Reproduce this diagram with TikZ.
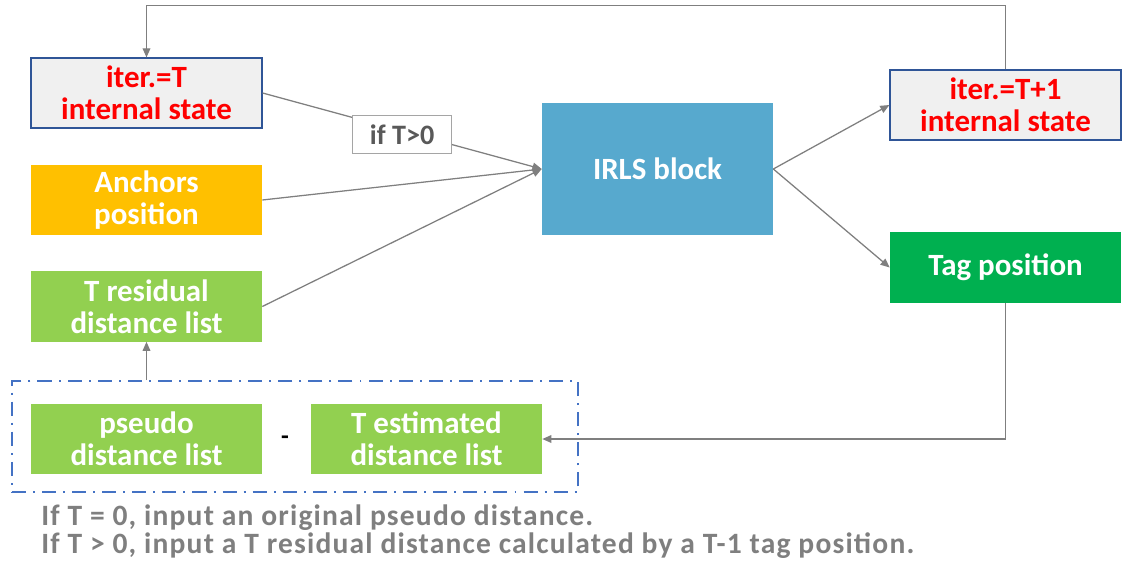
\documentclass[tikz,border=0pt]{standalone}
\usepackage{fontspec}
\setmainfont{Carlito}
\usepackage{xcolor}
\usetikzlibrary{arrows.meta}
\definecolor{lineGray}{RGB}{127,127,127}
\definecolor{stateBlue}{RGB}{47,85,151}
\definecolor{stateFill}{RGB}{240,240,240}
\definecolor{anchorOrange}{RGB}{255,192,0}
\definecolor{listGreen}{RGB}{146,208,80}
\definecolor{tagGreen}{RGB}{0,176,80}
\definecolor{irlsBlue}{RGB}{87,169,206}
\definecolor{groupBlue}{RGB}{68,114,196}
\definecolor{condGray}{RGB}{89,89,89}

\tikzset{
  box/.style={rectangle, minimum width=5.775cm, minimum height=1.75cm, inner sep=0pt,
    align=center, text=white, font=\fontsize{22}{23}\selectfont\bfseries},
  statebox/.style={box, draw=stateBlue, line width=0.8pt, fill=stateFill, text=red},
  anchorbox/.style={box, fill=anchorOrange},
  listbox/.style={box, fill=listGreen},
  tagbox/.style={box, fill=tagGreen},
  irlsbox/.style={box, fill=irlsBlue, minimum height=3.3cm},
  condbox/.style={rectangle, draw=lineGray!70, line width=0.6pt, fill=white, text=condGray,
    minimum width=2.475cm, minimum height=0.95cm, inner sep=0pt,
    font=\fontsize{20}{22}\selectfont\bfseries},
  groupbox/.style={rectangle, draw=groupBlue, line width=1.4pt,
    dash pattern=on 10pt off 5pt on 1.4pt off 5pt,
    minimum width=14.15cm, minimum height=2.775cm, inner sep=0pt},
  note/.style={anchor=west, inner sep=0pt, text=lineGray,
    font=\fontsize{21}{22}\selectfont\bfseries\addfontfeature{LetterSpace=4}},
  arr/.style={draw=lineGray, line width=0.9pt, -{Triangle[length=6.5pt,width=5.5pt]}}
}

\begin{document}
\begin{tikzpicture}[x=0.025cm, y=-0.025cm]
\useasboundingbox (0,0) rectangle (1122,565);

% inputs
\node[statebox] (itT) at (146.5,93) {iter.=T\\internal state};
\node[anchorbox] (anc) at (146.5,200) {Anchors\\position};
\node[listbox] (resid) at (146.5,306.5) {T residual\\distance list};

% IRLS and outputs
\node[irlsbox] (irls) at (657.5,169) {IRLS block};
\node[statebox] (itT1) at (1005.5,105) {iter.=T+1\\internal state};
\node[tagbox] (tag) at (1005.5,267.5) {Tag position};

% residual computation
\node[groupbox] (grp) at (295,436.5) {};
\node[listbox] (pseudo) at (146.5,439) {pseudo\\distance list};
\node[listbox] (est) at (426.5,439) {T estimated\\distance list};
\node[text=black, font=\fontsize{18}{20}\selectfont\bfseries] (minus) at (285,440) {-};

\node[note] (note1) at (41,518) {If T = 0, input an original pseudo distance.};
\node[note] (note2) at (41,546) {If T > 0, input a T residual distance calculated by a T-1 tag position.};

% connectors
\draw[arr] (itT.east) -- node[condbox, yshift=-3.5*0.025cm] (cond) {if T>0} (irls.west);
\draw[arr] (anc.east) -- (irls.west);
\draw[arr] (resid.east) -- (irls.west);
\draw[arr] (irls.east) -- (itT1.west);
\draw[arr] (irls.east) -- (tag.west);
\draw[arr] (itT1.north) -- ++(0,-64) -| (itT.north);
\draw[arr] (tag.south) |- (est.east);
\draw[arr] (grp.north -| resid.south) -- (resid.south);
\end{tikzpicture}
\end{document}
